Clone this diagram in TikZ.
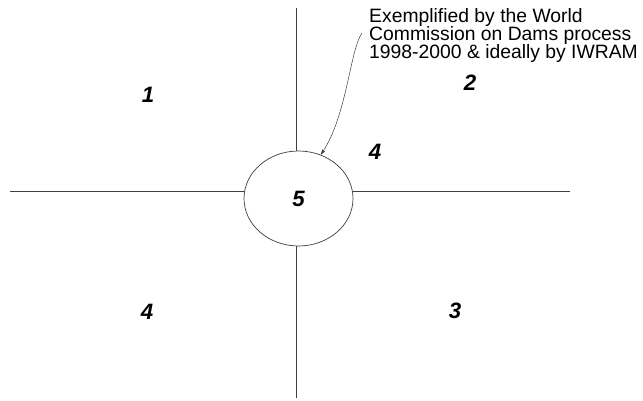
\documentclass[tikz,border=0pt]{standalone}
\usepackage{fontspec}
\setmainfont{Liberation Sans}
\usetikzlibrary{arrows.meta,positioning,shapes.geometric,calc}

\begin{document}
\begin{tikzpicture}[
    x=0.03cm,y=-0.03cm,
    axis/.style={draw=black!75,line width=0.6pt},
    num/.style={font=\fontsize{19}{19}\selectfont\bfseries\itshape,inner sep=0pt},
    note/.style={font=\fontsize{16.5}{15.5}\selectfont,align=left,inner sep=0pt,anchor=north west},
    arr/.style={-{Stealth[length=5pt,width=3pt]},line width=0.4pt,black!80}
  ]
    \useasboundingbox (0,0) rectangle (643,401);
    % axes
    \coordinate (top) at (296,8);
    \coordinate (bot) at (296,398);
    \coordinate (lft) at (10,191);
    \coordinate (rgt) at (570,191);
    \draw[axis] (top) -- (bot);
    \draw[axis] (lft) -- (rgt);
    % centre
    \node[ellipse,draw=black!75,line width=0.6pt,fill=white,
      minimum width=3.27cm,minimum height=2.85cm,inner sep=0pt] (mid) at (298.5,198.5) {};
    \node[num] (n5) at (mid) {5};
    \node[num] (n1) at (148,95) {1};
    \node[num] (n2) at (470,83) {2};
    \node[num] (n4a) at (375,152) {4};
    \node[num] (n4b) at (147,312) {4};
    \node[num] (n3) at (455,311) {3};
    % note
    \node[note] (wcd) at (369,8) {Exemplified by the World\\Commission on Dams process\\1998-2000 \& ideally by IWRAM};
    \coordinate (tail) at (362,33);
    \draw[arr] (tail) .. controls (350,50) and (347,115) .. (mid.63);
  \end{tikzpicture}
\end{document}
